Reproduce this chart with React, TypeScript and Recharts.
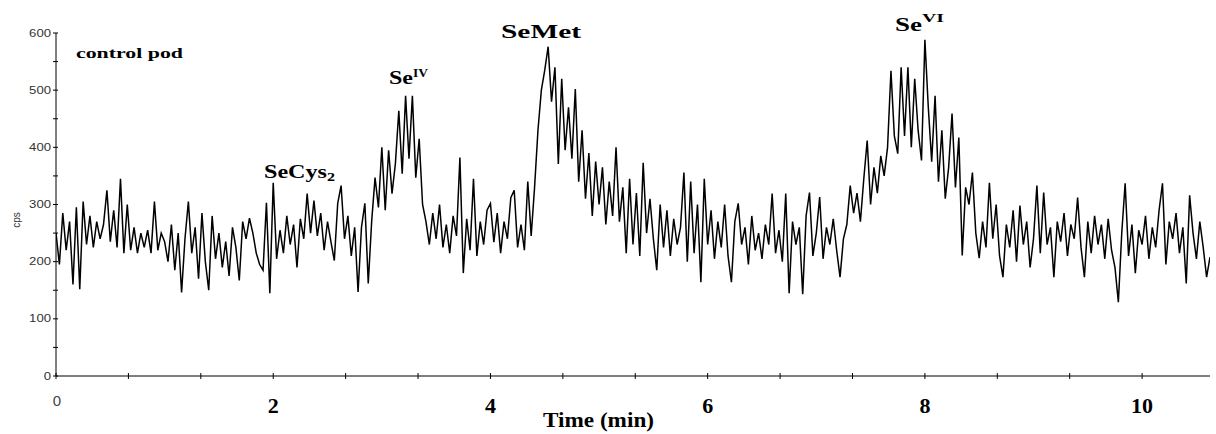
import React from "react";
import { LineChart, Line, XAxis, YAxis } from "recharts";

// Sampling grid: 32 samples per minute
const SAMPLES_PER_MIN = 32;

// cps values, one row per minute
const cpsMin0 = [250, 195, 285, 220, 270, 160, 295, 152, 305, 230, 280, 225, 270, 240, 265, 325, 235, 290, 225, 345, 215, 300, 220, 260, 215, 250, 225, 255, 215, 305, 220, 250];
const cpsMin1 = [235, 200, 265, 185, 250, 146, 240, 305, 215, 260, 170, 285, 200, 150, 280, 205, 250, 190, 235, 175, 260, 225, 167, 270, 240, 276, 250, 215, 195, 185, 303, 145];
const cpsMin2 = [338, 205, 255, 215, 280, 230, 265, 190, 275, 240, 319, 250, 307, 245, 285, 220, 270, 235, 202, 302, 333, 240, 280, 210, 260, 147, 260, 302, 162, 270, 347, 295];
const cpsMin3 = [400, 290, 395, 319, 372, 464, 354, 490, 380, 490, 347, 415, 300, 270, 230, 285, 240, 300, 225, 265, 215, 280, 245, 382, 180, 275, 220, 345, 210, 270, 230, 290];
const cpsMin4 = [302, 234, 285, 215, 270, 240, 312, 325, 225, 265, 220, 340, 245, 330, 430, 500, 535, 576, 480, 540, 371, 520, 395, 470, 380, 502, 340, 430, 310, 390, 280, 375];
const cpsMin5 = [300, 365, 265, 340, 280, 400, 270, 330, 215, 345, 230, 320, 210, 373, 250, 310, 240, 185, 300, 225, 290, 210, 275, 230, 260, 356, 200, 340, 215, 300, 164, 345];
const cpsMin6 = [230, 290, 205, 270, 225, 300, 210, 164, 270, 302, 230, 260, 195, 280, 220, 250, 205, 265, 230, 319, 215, 255, 200, 319, 145, 270, 230, 260, 143, 280, 321, 210];
const cpsMin7 = [250, 313, 205, 260, 230, 275, 220, 173, 240, 265, 333, 285, 320, 270, 345, 412, 300, 365, 320, 385, 350, 400, 534, 420, 389, 540, 420, 540, 400, 520, 430, 377];
const cpsMin8 = [588, 470, 375, 490, 340, 430, 310, 365, 459, 330, 417, 211, 330, 300, 356, 250, 206, 270, 225, 338, 240, 300, 210, 173, 265, 225, 290, 200, 298, 230, 270, 190];
const cpsMin9 = [240, 333, 215, 321, 230, 260, 173, 270, 235, 285, 210, 265, 240, 312, 225, 173, 270, 215, 280, 230, 265, 205, 275, 220, 190, 129, 250, 337, 210, 265, 180, 255];
const cpsMin10 = [230, 280, 205, 260, 225, 290, 337, 195, 270, 240, 285, 215, 260, 162, 316, 250, 205, 270, 225, 173, 208];

const cpsValues = [
  ...cpsMin0, ...cpsMin1, ...cpsMin2, ...cpsMin3, ...cpsMin4, ...cpsMin5,
  ...cpsMin6, ...cpsMin7, ...cpsMin8, ...cpsMin9, ...cpsMin10,
];
const timeValues = cpsValues.map((_, i) => i / SAMPLES_PER_MIN);

const xTicks = [0, 0.6667, 1.3333, 2, 2.6667, 3.3333, 4, 4.6667, 5.3333, 6, 6.6667, 7.3333, 8, 8.6667, 9.3333, 10];
const yTicks = [0, 50, 100, 150, 200, 250, 300, 350, 400, 450, 500, 550, 600];

const data = timeValues.map((t, i) => ({ t, cps: cpsValues[i] }));

const SANS = "'Liberation Sans', Arial, sans-serif";
const SERIF = "'Liberation Serif', 'Times New Roman', serif";

const YTick = (props: any) => {
  const { x, y, payload } = props;
  const v = payload.value;
  const major = v % 100 === 0;
  const label = String(v);
  return (
    <g>
      <line x1={x - 3} x2={x + 2} y1={y} y2={y} stroke="#000" strokeWidth={1} />
      {major && (
        <text
          x={x - 5}
          y={y + 3.5}
          textAnchor="end"
          fontFamily={SANS}
          fontSize={10}
          fill="#333"
          textLength={label.length * 7.3}
          lengthAdjust="spacingAndGlyphs"
        >
          {label}
        </text>
      )}
    </g>
  );
};

const XTick = (props: any) => {
  const { x, y, payload } = props;
  const v = payload.value;
  const r = Math.round(v);
  const isInt = Math.abs(v - r) < 0.01;
  const show = isInt && r % 2 === 0;
  return (
    <g>
      <line x1={x} x2={x} y1={y - 3} y2={y + 3} stroke="#000" strokeWidth={1} />
      {show && r === 0 && (
        <text x={x + 1} y={y + 30} textAnchor="middle" fontFamily={SANS} fontSize={15} fill="#444">
          0
        </text>
      )}
      {show && r !== 0 && (
        <text x={x} y={y + 37} textAnchor="middle" fontFamily={SERIF} fontWeight="bold" fontSize={22} fill="#000">
          {String(r)}
        </text>
      )}
    </g>
  );
};

const Overlay = () => (
  <svg
    width={1216}
    height={434}
    style={{ position: "absolute", left: 0, top: 0, pointerEvents: "none" }}
  >
    <text x={76} y={58} fontFamily={SERIF} fontWeight="bold" fontSize={15} textLength={107} lengthAdjust="spacingAndGlyphs">
      control pod
    </text>
    <text x={264} y={178} fontFamily={SERIF} fontWeight="bold" fontSize={18} textLength={63} lengthAdjust="spacingAndGlyphs">
      SeCys
    </text>
    <text x={327} y={181} fontFamily={SERIF} fontWeight="bold" fontSize={12} textLength={8} lengthAdjust="spacingAndGlyphs">
      2
    </text>
    <text x={389} y={84} fontFamily={SERIF} fontWeight="bold" fontSize={19} textLength={24} lengthAdjust="spacingAndGlyphs">
      Se
    </text>
    <text x={413} y={77} fontFamily={SERIF} fontWeight="bold" fontSize={13} textLength={15} lengthAdjust="spacingAndGlyphs">
      IV
    </text>
    <text x={501} y={38} fontFamily={SERIF} fontWeight="bold" fontSize={19} textLength={80} lengthAdjust="spacingAndGlyphs">
      SeMet
    </text>
    <text x={895} y={31} fontFamily={SERIF} fontWeight="bold" fontSize={19} textLength={27} lengthAdjust="spacingAndGlyphs">
      Se
    </text>
    <text x={922} y={22} fontFamily={SERIF} fontWeight="bold" fontSize={13} textLength={22} lengthAdjust="spacingAndGlyphs">
      VI
    </text>
    <text x={543} y={427} fontFamily={SERIF} fontWeight="bold" fontSize={20} textLength={111} lengthAdjust="spacingAndGlyphs">
      Time (min)
    </text>
    <text
      x={0}
      y={0}
      transform="translate(20,220) rotate(-90)"
      textAnchor="middle"
      fontFamily={SANS}
      fontSize={10}
      fill="#333"
    >
      cps
    </text>
  </svg>
);

export default function App() {
  return (
    <div style={{ position: "absolute", left: 0, top: 0, width: 1216, height: 434, background: "#fff" }}>
      <LineChart
        width={1216}
        height={434}
        data={data}
        margin={{ top: 33, right: 6, bottom: 28, left: 0 }}
      >
        <XAxis
          dataKey="t"
          type="number"
          domain={[0, 10.625]}
          ticks={xTicks}
          allowDataOverflow
          axisLine={{ stroke: "#000", strokeWidth: 1 }}
          tickLine={false}
          tickSize={0}
          tickMargin={0}
          height={30}
          tick={<XTick />}
          interval={0}
        />
        <YAxis
          type="number"
          domain={[0, 600]}
          ticks={yTicks}
          axisLine={{ stroke: "#000", strokeWidth: 1 }}
          tickLine={false}
          tickSize={0}
          tickMargin={0}
          width={56}
          tick={<YTick />}
          interval={0}
        />
        <Line
          type="linear"
          dataKey="cps"
          stroke="#000"
          strokeWidth={1.5}
          dot={false}
          isAnimationActive={false}
        />
      </LineChart>
      <Overlay />
    </div>
  );
}
